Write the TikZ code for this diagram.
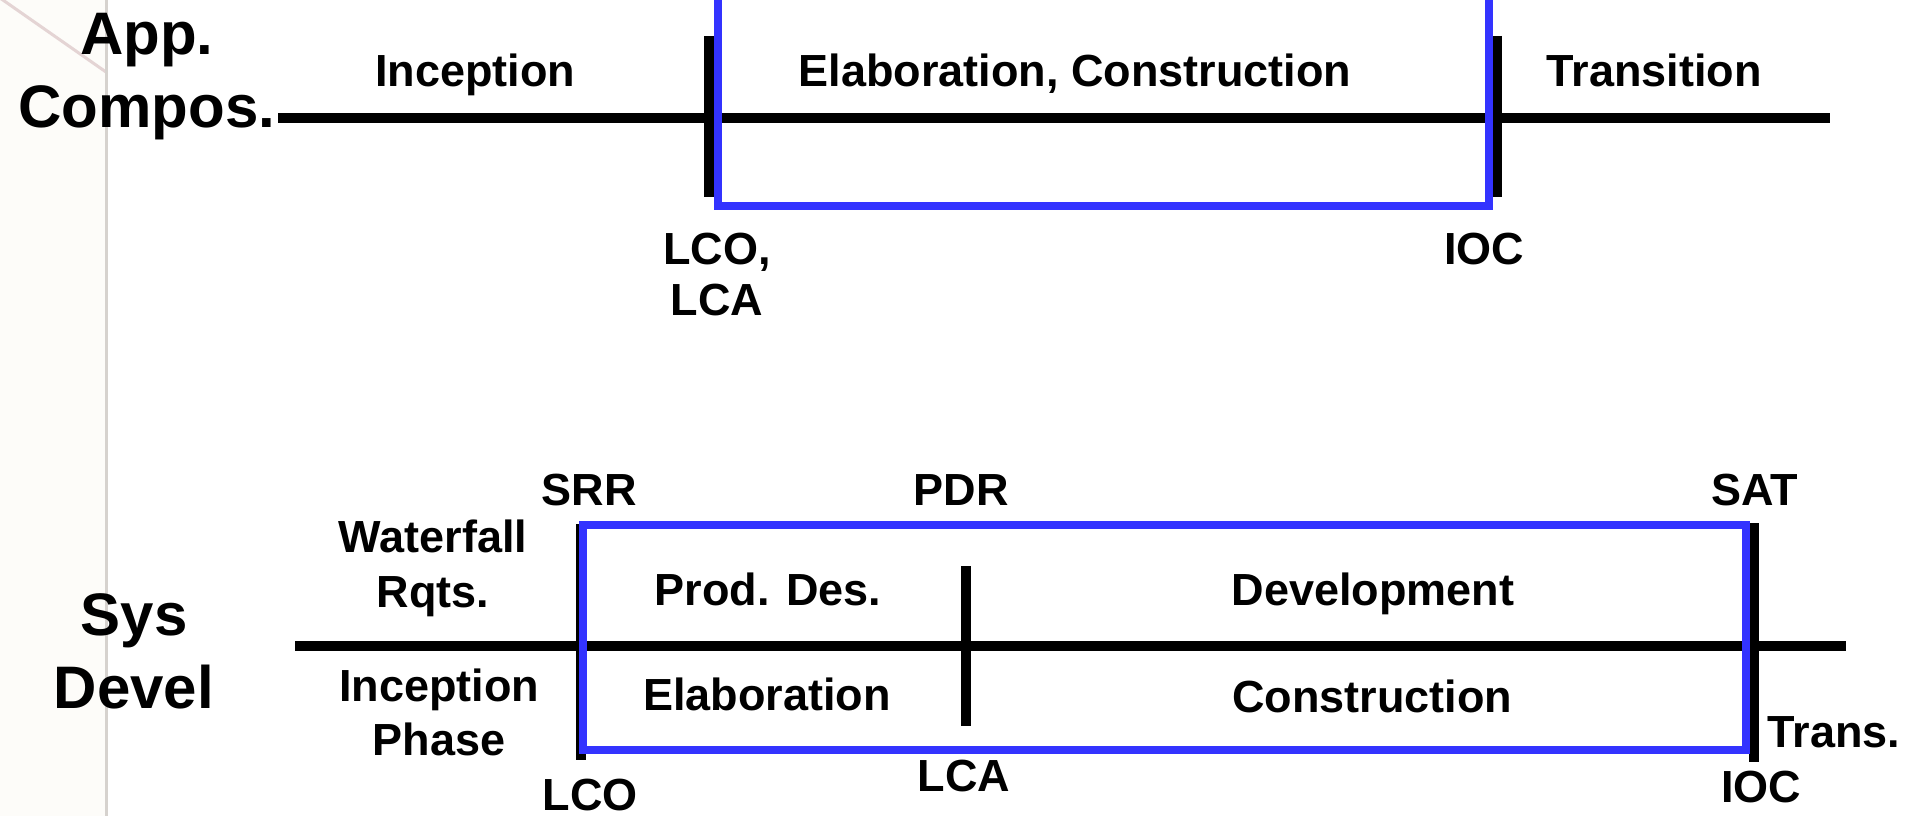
\documentclass[tikz,border=0pt]{standalone}
\usepackage{fontspec}
\setmainfont{Liberation Sans}
\definecolor{boxblue}{RGB}{51,51,255}
\definecolor{tplgray}{RGB}{214,210,206}
\definecolor{tplpink}{RGB}{228,212,212}
\definecolor{tplcream}{RGB}{253,252,249}
\tikzset{
  big/.style={font=\fontsize{60}{72}\selectfont\bfseries, inner sep=0pt, anchor=base},
  lbl/.style={font=\fontsize{45}{54}\selectfont\bfseries, inner sep=0pt, anchor=base},
  axisline/.style={line width=10pt, black},
  tickline/.style={line width=10pt, black},
  phasebox/.style={line width=8pt, draw=boxblue},
}
\begin{document}
\begin{tikzpicture}[x=1pt, y=-1pt]
\clip (0,0) rectangle (1907,816);
\fill[white] (0,0) rectangle (1907,816);
% slide template decoration
\fill[tplcream] (0,0) rectangle (106,816);
\draw[tplpink, line width=3pt] (0,-2) -- (106,72);
\draw[tplgray, line width=3pt] (106,0) -- (106,816);

% ---------- top: App. Compos. ----------
\node[big] (app) at (147,55) {App.};
\node[big] (compos) at (147,127) {Compos.};
\coordinate (ta) at (278,118);
\coordinate (tb) at (1830,118);
\draw[axisline] (ta) -- (tb);
\coordinate (t1a) at (709,36);
\coordinate (t1b) at (709,197);
\coordinate (t2a) at (1497,36);
\coordinate (t2b) at (1497,197);
\draw[tickline] (t1a) -- (t1b);
\draw[tickline] (t2a) -- (t2b);
\draw[phasebox] (718,-20) rectangle (1489,206);
\node[lbl] (inc1) at (475,87) {Inception};
\node[lbl] (elc) at (1075,87) {Elaboration, Construction};
\node[lbl] (trn) at (1654,87) {Transition};
\node[lbl] (lco1) at (717,264) {LCO,};
\node[lbl] (lca1) at (717,315) {LCA};
\node[lbl] (ioc1) at (1484,264) {IOC};

% ---------- bottom: Sys Devel ----------
\node[big] (sys) at (134,635) {Sys};
\node[big] (devel) at (134,708) {Devel};
\coordinate (ba) at (295,646);
\coordinate (bb) at (1846,646);
\draw[axisline] (ba) -- (bb);
\coordinate (s1a) at (581,524);
\coordinate (s1b) at (581,760);
\coordinate (s2a) at (966,566);
\coordinate (s2b) at (966,726);
\coordinate (s3a) at (1754,523);
\coordinate (s3b) at (1754,762);
\draw[tickline] (s1a) -- (s1b);
\draw[tickline] (s2a) -- (s2b);
\draw[tickline] (s3a) -- (s3b);
\draw[phasebox] (583,525) rectangle (1746,750);
\node[lbl] (wf) at (433,552) {Waterfall};
\node[lbl] (rq) at (433,607) {Rqts.};
\node[lbl] (inc2) at (439,701) {Inception};
\node[lbl] (ph) at (439,755) {Phase};
\node[lbl] (srr) at (589,505) {SRR};
\node[lbl] (lco2) at (590,810) {LCO};
\node[lbl] (pd) at (768,605) {Prod. Des.};
\node[lbl] (ela) at (767,710) {Elaboration};
\node[lbl] (pdr) at (961,505) {PDR};
\node[lbl] (lca2) at (964,791) {LCA};
\node[lbl] (dev) at (1373,605) {Development};
\node[lbl] (con) at (1372,712) {Construction};
\node[lbl] (sat) at (1755,505) {SAT};
\node[lbl] (trs) at (1834,747) {Trans.};
\node[lbl] (ioc2) at (1761,802) {IOC};
\end{tikzpicture}
\end{document}
